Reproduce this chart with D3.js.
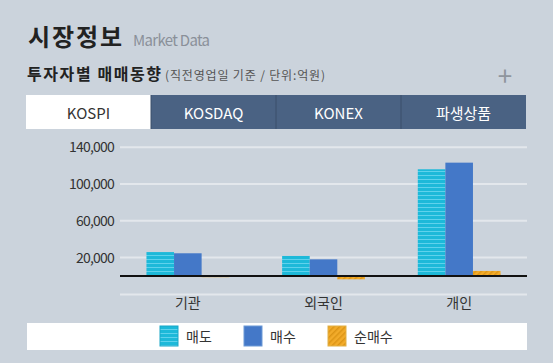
<!DOCTYPE html>
<html><head><meta charset="utf-8">
<script src="https://cdn.jsdelivr.net/npm/d3@7/dist/d3.min.js"></script>
<style>
body{margin:0;background:#cbd3dc;}
svg{display:block;font-family:"Noto Sans CJK KR","Noto Sans",sans-serif;}
</style></head>
<body><svg id="c" width="553" height="363"></svg>
<script>
const categories = ["기관", "외국인", "개인"];
const seriesNames = ["매도", "매수", "순매수"];
const sellValues = [26000, 21800, 116000];
const buyValues = [24700, 18100, 123200];
const netValues = [-1300, -3600, 5500];
const yTicks = [20000, 60000, 100000, 140000];
const tabs = ["KOSPI", "KOSDAQ", "KONEX", "파생상품"];

const svg = d3.select("#c");
const defs = svg.append("defs");
const p1 = defs.append("pattern").attr("id","pSell").attr("patternUnits","userSpaceOnUse").attr("width",8).attr("height",4);
p1.append("rect").attr("width",8).attr("height",4).attr("fill","#1db9d9");
p1.append("rect").attr("y",3).attr("width",8).attr("height",1).attr("fill","#5fd2ec");
const p3 = defs.append("pattern").attr("id","pNet").attr("patternUnits","userSpaceOnUse").attr("width",4).attr("height",4).attr("patternTransform","rotate(45)");
p3.append("rect").attr("width",4).attr("height",4).attr("fill","#f2ab2a");
p3.append("rect").attr("width",1.5).attr("height",4).attr("fill","#dd9516");
const fills = ["url(#pSell)", "#4478c8", "url(#pNet)"];

// header
svg.append("text").attr("x",28).attr("y",46).attr("font-size",24).attr("font-weight",700).attr("fill","#222").attr("textLength",94).text("시장정보");
svg.append("text").attr("x",133).attr("y",46).attr("font-size",15).attr("fill","#8a9099").attr("textLength",77).text("Market Data");
svg.append("text").attr("x",27).attr("y",80).attr("font-size",16).attr("font-weight",700).attr("fill","#222").attr("textLength",134).text("투자자별 매매동향");
svg.append("text").attr("x",165).attr("y",80).attr("font-size",12).attr("fill","#555").attr("textLength",160).text("(직전영업일 기준 / 단위:억원)");
svg.append("text").attr("x",505).attr("y",86).attr("text-anchor","middle").attr("font-size",26).attr("fill","#8f959d").text("+");

// tabs
const xt = d3.scaleBand().domain(tabs).range([26,526]);
const tg = svg.append("g");
tg.selectAll("rect").data(tabs).join("rect")
  .attr("x",d=>xt(d)).attr("y",95).attr("width",xt.bandwidth()).attr("height",34)
  .attr("fill",(d,i)=>i===0?"#ffffff":"#4a6283");
tg.selectAll("line").data(tabs.slice(1)).join("line")
  .attr("x1",d=>xt(d)).attr("x2",d=>xt(d)).attr("y1",95).attr("y2",129).attr("stroke","#3a4f6b").attr("stroke-width",1);
tg.selectAll("text").data(tabs).join("text")
  .attr("x",d=>xt(d)+xt.bandwidth()/2).attr("y",119).attr("text-anchor","middle")
  .attr("font-size",15).attr("fill",(d,i)=>i===0?"#333":"#ffffff").text(d=>d);

// chart
const x0 = d3.scaleBand().domain(categories).range([120,527]).paddingInner(0.39).paddingOuter(0.195);
const x1 = d3.scaleBand().domain(seriesNames).range([0,x0.bandwidth()]);
const y = d3.scaleLinear().domain([-20000,140000]).range([294.4,147.2]);

const grid = svg.append("g");
grid.selectAll("line").data([-20000].concat(yTicks)).join("line")
  .attr("x1",120).attr("x2",527).attr("y1",d=>y(d)).attr("y2",d=>y(d))
  .attr("stroke","#e3e7ec").attr("stroke-width",2);

const yAxis = svg.append("g").attr("transform","translate(114,0)")
  .call(d3.axisLeft(y).tickValues(yTicks).tickSize(0).tickPadding(0).tickFormat(d3.format(",")));
yAxis.select(".domain").remove();
yAxis.selectAll("text").attr("font-size",14).attr("fill","#333").attr("letter-spacing","-0.8")
  .attr("font-family","'Noto Sans CJK KR',sans-serif");

const data = categories.map((c,i)=>({c, vals:[sellValues[i], buyValues[i], netValues[i]]}));
const groups = svg.append("g").selectAll("g").data(data).join("g")
  .attr("transform",d=>`translate(${x0(d.c)},0)`);
groups.selectAll("rect").data(d=>d.vals.map((v,j)=>({s:seriesNames[j], v, j}))).join("rect")
  .attr("x",d=>x1(d.s)).attr("width",x1.bandwidth())
  .attr("y",d=>y(Math.max(0,d.v))).attr("height",d=>Math.abs(y(d.v)-y(0)))
  .attr("fill",d=>fills[d.j]);

svg.append("line").attr("x1",120).attr("x2",527).attr("y1",y(0)).attr("y2",y(0)).attr("stroke","#111").attr("stroke-width",2);

const xAxis = svg.append("g").attr("transform","translate(0,296)")
  .call(d3.axisBottom(x0).tickSize(0).tickPadding(2));
xAxis.select(".domain").remove();
xAxis.selectAll("text").attr("font-size",14).attr("fill","#333").attr("font-family","'Noto Sans CJK KR',sans-serif");

// legend
svg.append("rect").attr("x",27).attr("y",323).attr("width",500).attr("height",27).attr("fill","#ffffff");
const legX = [160, 244, 328];
const lg = svg.append("g").selectAll("g").data(seriesNames).join("g")
  .attr("transform",(d,i)=>`translate(${legX[i]},326)`);
lg.append("rect").attr("width",18).attr("height",20).attr("fill",(d,i)=>fills[i])
  .attr("stroke",(d,i)=>["#1aa7c8","#6d9ad6","#e0b048"][i]).attr("stroke-width",1);
lg.append("text").attr("x",26).attr("y",15.5).attr("font-size",14).attr("fill","#333").text(d=>d);
</script></body></html>
